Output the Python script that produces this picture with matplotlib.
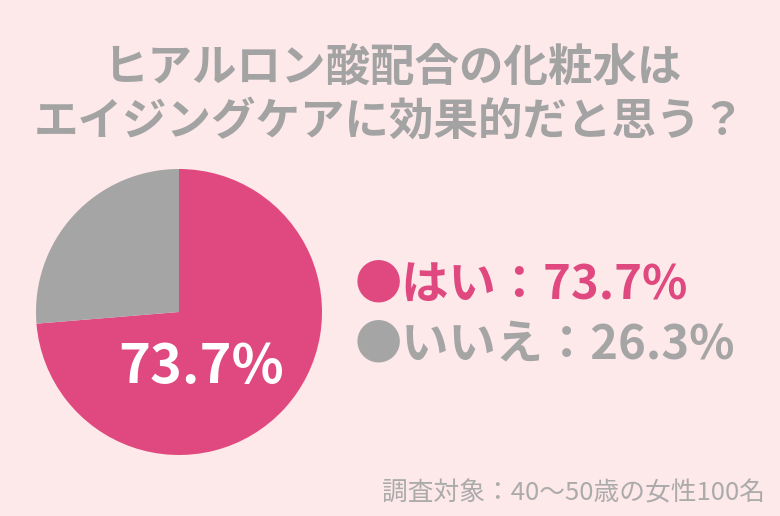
import matplotlib.pyplot as plt

# data
labels = ["はい", "いいえ"]
values = [73.7, 26.3]
colors = ["#e0497f", "#a5a5a5"]
title_lines = ["ヒアルロン酸配合の化粧水は", "エイジングケアに効果的だと思う？"]
footnote = "調査対象：40〜50歳の女性100名"

bg = "#fde8ea"
plt.rcParams['font.family'] = ['Noto Sans CJK JP', 'DejaVu Sans']

fig = plt.figure(figsize=(7.8, 5.16), dpi=100)
fig.patch.set_facecolor(bg)

# title
fig.text(392 / 780, 1 - 68 / 516, title_lines[0], ha="center", va="center",
         fontsize=32, fontweight="bold", color="#a3a3a3")
fig.text(390 / 780, 1 - 122 / 516, title_lines[1], ha="center", va="center",
         fontsize=32, fontweight="bold", color="#a3a3a3")

# pie
ax = fig.add_axes([36 / 780, 61 / 516, 286 / 780, 286 / 516])
ax.pie(values, colors=colors, startangle=90, counterclock=False,
       wedgeprops=dict(linewidth=0))
ax.set_xlim(-1, 1)
ax.set_ylim(-1, 1)
ax.set_aspect("equal")
ax.text(0.155, -0.39, f"{values[0]}%", ha="center", va="center",
        fontsize=39, fontweight="bold", color="white")

# legend text
ys = [285, 345]
for lab, v, c, y in zip(labels, values, colors, ys):
    fig.text(355 / 780, 1 - y / 516, f"●{lab}：{v}%", ha="left", va="center",
             fontsize=34, fontweight="bold", color=c)

# footnote
fig.text(765 / 780, 1 - 493 / 516, footnote, ha="right", va="center",
         fontsize=18.5, color="#ababab")

fig.savefig("out.png", dpi=100, facecolor=bg)
